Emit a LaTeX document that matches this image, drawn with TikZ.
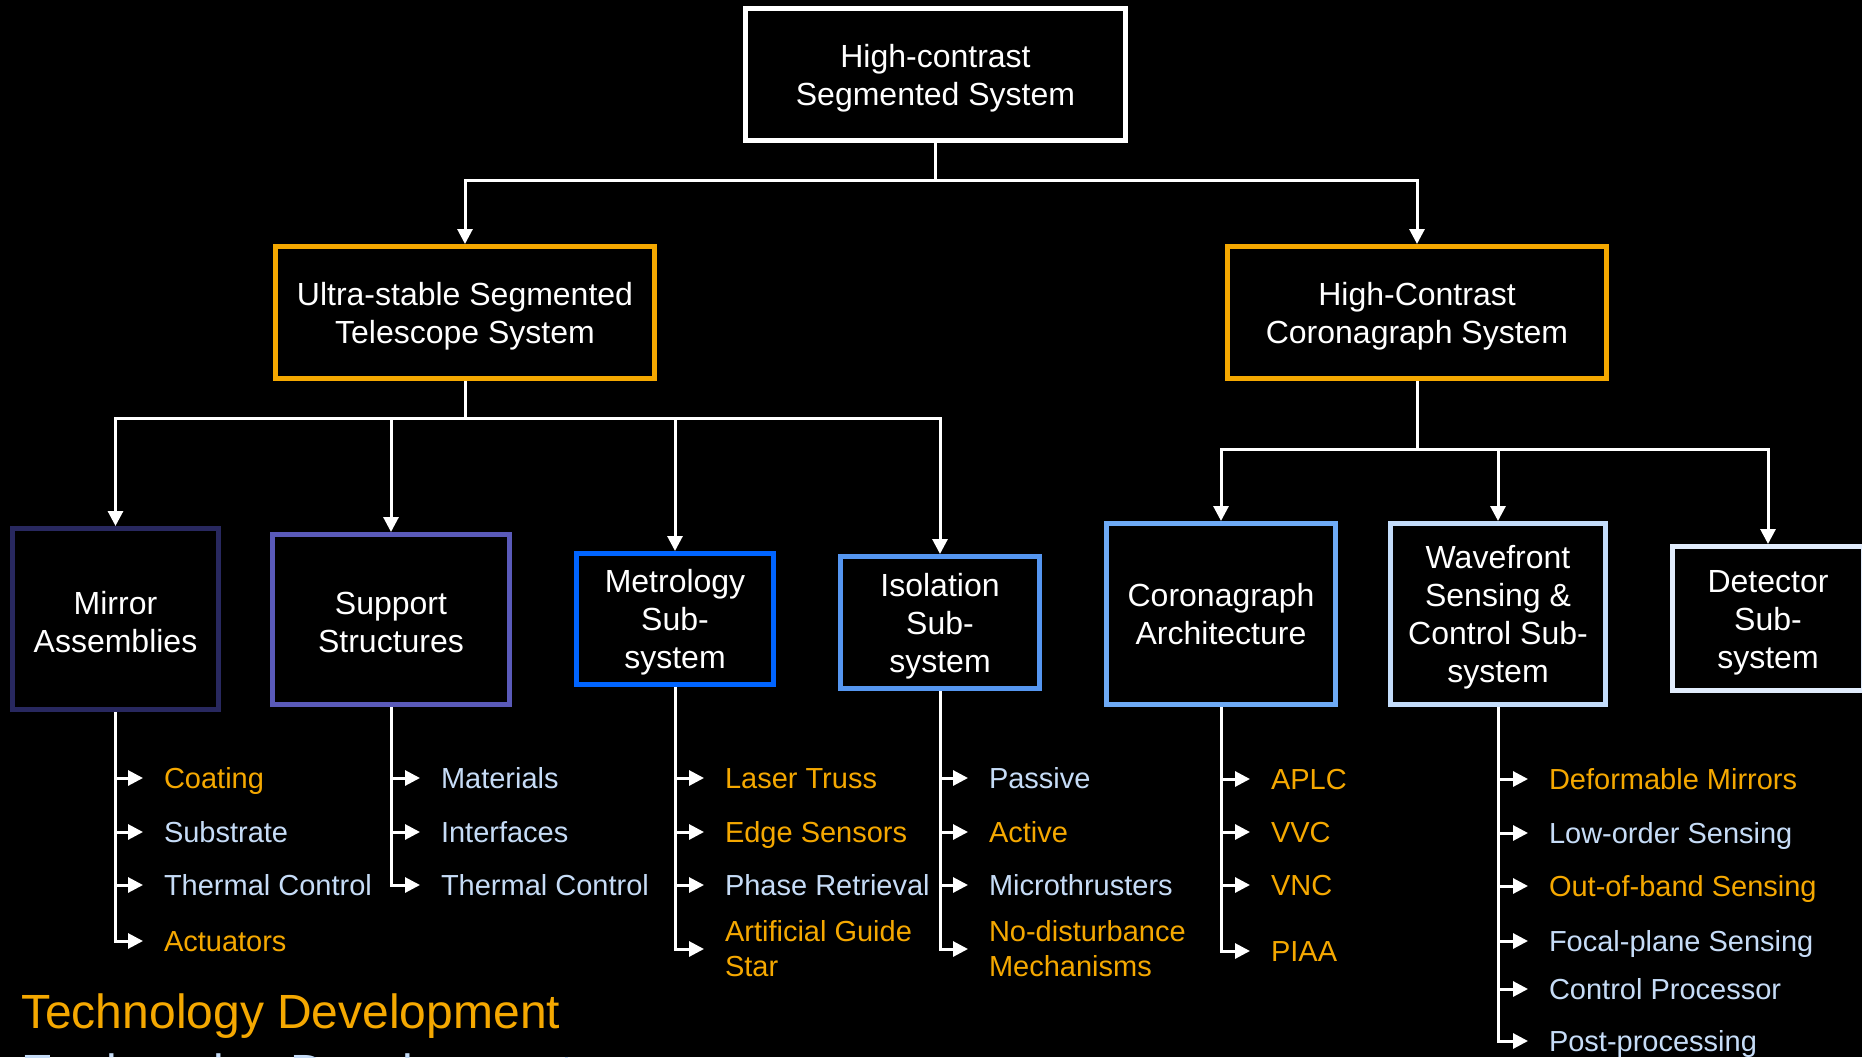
\documentclass[tikz,border=0pt]{standalone}
\usepackage{fontspec}
\setmainfont{Liberation Sans}
\usetikzlibrary{arrows.meta}
\definecolor{tdorange}{RGB}{245,168,0}
\definecolor{tdblue}{RGB}{198,220,247}
\definecolor{cmirror}{RGB}{40,40,95}
\definecolor{csupport}{RGB}{90,90,185}
\definecolor{cmetro}{RGB}{0,100,255}
\definecolor{ciso}{RGB}{85,150,240}
\definecolor{carch}{RGB}{110,170,245}
\definecolor{cwfs}{RGB}{195,220,250}
\definecolor{cdet}{RGB}{225,236,252}
\tikzset{
  box/.style={draw, line width=5pt, fill=black, inner sep=0pt},
  boxtext/.style={text=white, align=center, font=\fontsize{32}{38}\selectfont, inner sep=0pt},
  conn/.style={draw=white, line width=3pt},
  tip/.style={-{Triangle[length=15pt,width=15pt]}},
  leaf/.style={anchor=west, inner xsep=21pt, inner ysep=0pt, outer sep=0pt,
    font=\fontsize{29}{35}\selectfont, text height=21pt, text depth=0pt},
  leaftwo/.style={anchor=west, inner xsep=21pt, inner ysep=0pt, outer sep=0pt,
    font=\fontsize{29}{35}\selectfont, align=left},
  org/.style={text=tdorange},
  blu/.style={text=tdblue}
}
\begin{document}
\begin{tikzpicture}[x=1pt,y=-1pt]
\useasboundingbox (0,0) rectangle (1862,1057);
\fill[black] (0,0) rectangle (1862,1057);

% boxes
\node[box, draw=white, minimum width=380pt, minimum height=132pt] (top) at (935.5,74.5) {};
\node[box, draw=tdorange, minimum width=379pt, minimum height=132pt] (ultra) at (465,312.5) {};
\node[box, draw=tdorange, minimum width=379pt, minimum height=132pt] (cor) at (1417,312.5) {};
\node[box, draw=cmirror, minimum width=206pt, minimum height=181pt] (mirror) at (115.5,619) {};
\node[box, draw=csupport, minimum width=237pt, minimum height=170pt] (support) at (391,619.5) {};
\node[box, draw=cmetro, minimum width=197pt, minimum height=131pt] (metro) at (675,619) {};
\node[box, draw=ciso, minimum width=199pt, minimum height=132pt] (iso) at (940,622.5) {};
\node[box, draw=carch, minimum width=229pt, minimum height=181pt] (arch) at (1221,614) {};
\node[box, draw=cwfs, minimum width=215pt, minimum height=181pt] (wfs) at (1498,614) {};
\node[box, draw=cdet, minimum width=191pt, minimum height=144pt] (det) at (1768,618.5) {};

% box texts
\node[boxtext] (topt) at ([yshift=-4pt]top.center) {High-contrast\\Segmented System};
\node[boxtext] (ultrat) at ([yshift=-4pt]ultra.center) {Ultra-stable Segmented\\Telescope System};
\node[boxtext] (cort) at ([yshift=-4pt]cor.center) {High-Contrast\\Coronagraph System};
\node[boxtext] (mirrort) at ([yshift=-3pt]mirror.center) {Mirror\\Assemblies};
\node[boxtext] (supportt) at ([yshift=-3pt]support.center) {Support\\Structures};
\node[boxtext] (metrot) at ([yshift=-3.5pt]metro.center) {Metrology\\Sub-\\system};
\node[boxtext] (isot) at ([yshift=-4pt]iso.center) {Isolation\\Sub-\\system};
\node[boxtext] (archt) at (arch.center) {Coronagraph\\Architecture};
\node[boxtext] (wfst) at ([yshift=-3pt]wfs.center) {Wavefront\\Sensing \&\\Control Sub-\\system};
\node[boxtext] (dett) at ([yshift=-4pt]det.center) {Detector\\Sub-\\system};

% junctions
\coordinate (j1) at (935.5,180);
\coordinate (j2) at (465,418);
\coordinate (j3) at (1417,449);

\draw[conn] (top.south) -- (j1);
\draw[conn,tip] (j1) -| (ultra.north);
\draw[conn,tip] (j1) -| (cor.north);
\draw[conn] (ultra.south) -- (j2);
\foreach \b in {mirror,support,metro,iso} \draw[conn,tip] (j2) -| (\b.north);
\draw[conn] (cor.south) -- (j3);
\foreach \b in {arch,wfs,det} \draw[conn,tip] (j3) -| (\b.north);

% leaves: Mirror Assemblies
\node[leaf,org] (m1) at (143,778) {Coating};
\node[leaf,blu] (m2) at (143,832) {Substrate};
\node[leaf,blu] (m3) at (143,885) {Thermal Control};
\node[leaf,org] (m4) at (143,941) {Actuators};
\foreach \l in {m1,m2,m3,m4} \draw[conn,tip] (mirror.south) |- (\l.west);

% Support Structures
\node[leaf,blu] (s1) at (420,778) {Materials};
\node[leaf,blu] (s2) at (420,832) {Interfaces};
\node[leaf,blu] (s3) at (420,885) {Thermal Control};
\foreach \l in {s1,s2,s3} \draw[conn,tip] (support.south) |- (\l.west);

% Metrology
\node[leaf,org] (t1) at (704,778) {Laser Truss};
\node[leaf,org] (t2) at (704,832) {Edge Sensors};
\node[leaf,blu] (t3) at (704,885) {Phase Retrieval};
\node[leaftwo,org] (t4) at (704,949) {Artificial Guide\\Star};
\foreach \l in {t1,t2,t3,t4} \draw[conn,tip] (metro.south) |- (\l.west);

% Isolation
\node[leaf,blu] (i1) at (968,778) {Passive};
\node[leaf,org] (i2) at (968,832) {Active};
\node[leaf,blu] (i3) at (968,885) {Microthrusters};
\node[leaftwo,org] (i4) at (968,949) {No-disturbance\\Mechanisms};
\foreach \l in {i1,i2,i3,i4} \draw[conn,tip] (iso.south) |- (\l.west);

% Coronagraph Architecture
\node[leaf,org] (a1) at (1250,779) {APLC};
\node[leaf,org] (a2) at (1250,832) {VVC};
\node[leaf,org] (a3) at (1250,885) {VNC};
\node[leaf,org] (a4) at (1250,951) {PIAA};
\foreach \l in {a1,a2,a3,a4} \draw[conn,tip] (arch.south) |- (\l.west);

% Wavefront Sensing & Control
\node[leaf,org] (w1) at (1528,779) {Deformable Mirrors};
\node[leaf,blu] (w2) at (1528,833) {Low-order Sensing};
\node[leaf,org] (w3) at (1528,886) {Out-of-band Sensing};
\node[leaf,blu] (w4) at (1528,941) {Focal-plane Sensing};
\node[leaf,blu] (w5) at (1528,989) {Control Processor};
\node[leaf,blu] (w6) at (1528,1041) {Post-processing};
\foreach \l in {w1,w2,w3,w4,w5,w6} \draw[conn,tip] (wfs.south) |- (\l.west);

% legend
\node[anchor=base west, inner sep=0pt, text=tdorange, font=\fontsize{48}{56}\selectfont] (lg1) at (21,1028) {Technology Development};
\node[anchor=base west, inner sep=0pt, text=tdblue, font=\fontsize{48}{56}\selectfont] (lg2) at (21,1088) {Engineering Development};
\end{tikzpicture}
\end{document}
